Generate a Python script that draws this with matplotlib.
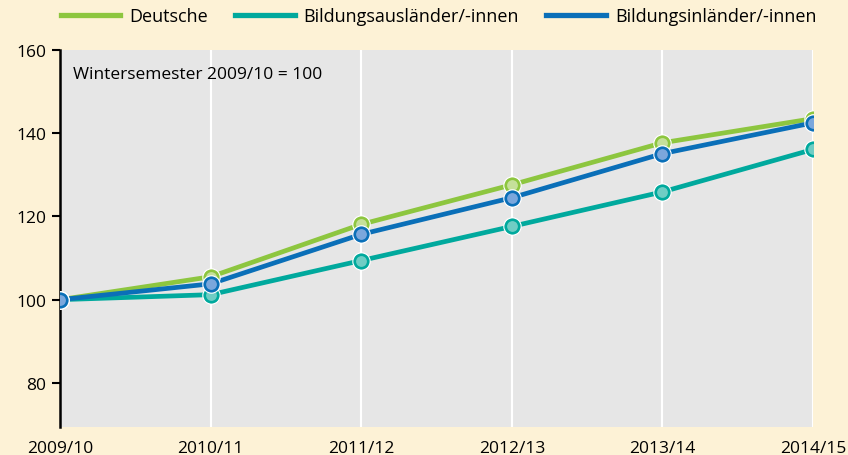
import matplotlib.pyplot as plt
import numpy as np

plt.rcParams['font.family'] = ['Open Sans', 'DejaVu Sans']

semester = ['2009/10', '2010/11', '2011/12', '2012/13', '2013/14', '2014/15']
deutsche = [100, 105.5, 118.1, 127.6, 137.7, 143.5]
auslaender = [100, 101.2, 109.4, 117.6, 125.9, 136.1]
inlaender = [100, 103.8, 115.7, 124.5, 135.1, 142.5]

series = [
    ('Deutsche', deutsche, '#8dc63f', '#c5e09a'),
    ('Bildungsausländer/-innen', auslaender, '#00a99d', '#6fcdc4'),
    ('Bildungsinländer/-innen', inlaender, '#0a6fb8', '#7ba7dc'),
]

fig = plt.figure(figsize=(8.48, 4.56), dpi=100)
fig.patch.set_facecolor('#fdf2d6')
ax = fig.add_axes([0.0708, 0.0614, 0.8880, 0.8268])
ax.set_facecolor('#e6e6e6')

x = np.arange(len(semester))
handles = []
for name, vals, col, face in series:
    ax.plot(x, vals, color=col, lw=3.4, zorder=3)
    ax.plot(x, vals, ls='none', marker='o', ms=10, mfc=face, mec=col,
            mew=2.2, zorder=4)
    ax.plot(x, vals, ls='none', marker='o', ms=12.5, mfc='none', mec='white',
            mew=0.8, zorder=4)
    h, = ax.plot([], [], color=col, lw=3.8, label=name)
    handles.append(h)

ax.set_xlim(0, len(semester) - 1)
ax.set_ylim(69.4, 160)
ax.set_yticks([80, 100, 120, 140, 160])
ax.set_xticks(x)
ax.set_xticklabels(semester)
ax.tick_params(axis='y', length=6, width=1.5, color='black', labelsize=12.5, pad=4)
ax.tick_params(axis='x', length=0, labelsize=12.5, pad=9)
ax.grid(axis='x', color='white', lw=1.5)
ax.set_axisbelow(True)
for s in ['top', 'right', 'bottom']:
    ax.spines[s].set_visible(False)
ax.spines['left'].set_linewidth(1.8)
ax.spines['left'].set_color('black')
for lbl in ax.get_xticklabels():
    lbl.set_clip_on(False)

ax.text(0.017, 0.935, 'Wintersemester 2009/10 = 100', transform=ax.transAxes,
        fontsize=12.5, va='center', ha='left')

fig.legend(handles=handles, loc='center', bbox_to_anchor=(0.517, 0.962), ncol=3,
           frameon=False, fontsize=13, handlelength=3.3, handletextpad=0.5,
           columnspacing=1.5)

fig.savefig('out.png', dpi=100, facecolor=fig.get_facecolor())
